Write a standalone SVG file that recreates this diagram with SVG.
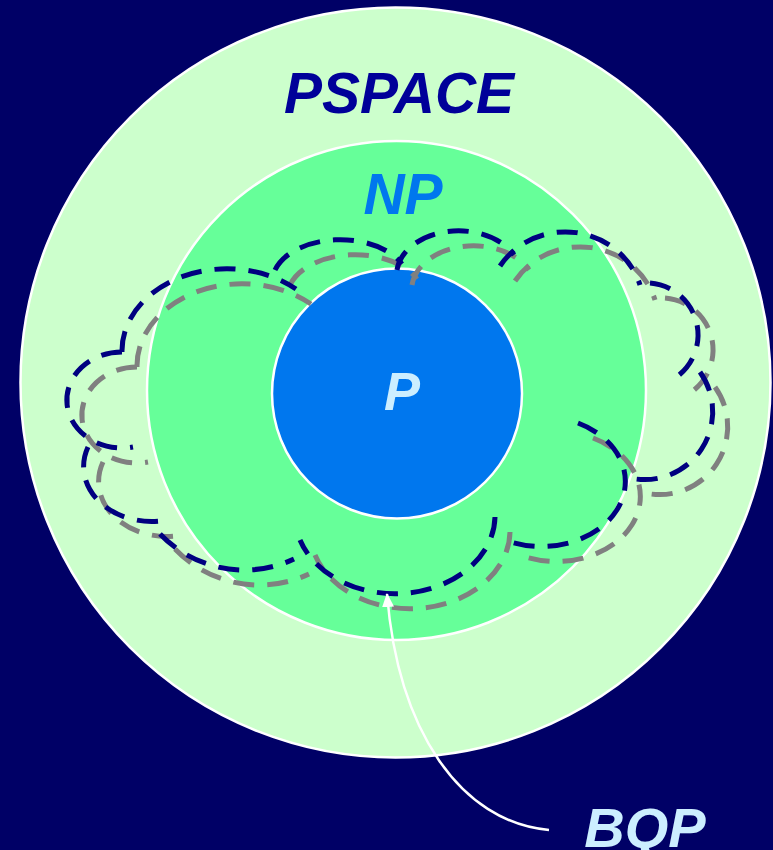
<svg xmlns="http://www.w3.org/2000/svg" xmlns:xlink="http://www.w3.org/1999/xlink" width="773" height="850" viewBox="0 0 773 850">
<style>
.ring{stroke:#ffffff;stroke-width:2.5}
.lbl{font-family:"Liberation Sans",Arial,sans-serif;font-weight:bold;font-style:italic;text-anchor:middle}
.cl{fill:none;stroke-width:5;stroke-dasharray:21 13}
</style>
<defs>
<g id="cloud">
<path d="M122,352 A105,82 0 0 1 296,289"/>
<path d="M275,270 A68,42 0 0 1 402,264"/>
<path d="M397,270 A62,44 0 0 1 514,255"/>
<path d="M500,266 A78,75 0 0 1 640,285"/>
<path d="M650,283 A52,52 0 0 1 670,381"/>
<path d="M700,372 A68,68 0 0 1 630,478"/>
<path d="M578,423 A80,62 0 1 1 505,540"/>
<path d="M495,517 A100,78 0 0 1 300,540"/>
<path d="M160,534 A117,117 0 0 0 294,559"/>
<path d="M88,447 A68,55 0 0 0 167,520"/>
<path d="M122,352 A55,48 0 1 0 133,447"/>
</g>
<marker id="ah" markerUnits="userSpaceOnUse" markerWidth="14" markerHeight="12" viewBox="0 0 14 12" refX="13" refY="6" orient="auto">
<path d="M0,0 L14,6 L0,12 z" fill="#ffffff"/>
</marker>
</defs>
<rect x="0" y="0" width="773" height="850" fill="#000066"/>
<g id="pspace">
<circle class="ring" cx="395.5" cy="382.5" r="375" fill="#CCFFCC"/>
<text class="lbl" x="399" y="113" font-size="57" fill="#000099">PSPACE</text>
</g>
<g id="np">
<circle class="ring" cx="396.5" cy="390.5" r="249.5" fill="#66FF99"/>
<text class="lbl" x="403" y="214" font-size="57" fill="#0077EE">NP</text>
</g>
<g id="p">
<circle class="ring" cx="397" cy="393.5" r="125" fill="#0077EE"/>
<text class="lbl" x="402" y="410" font-size="54" fill="#CCEEFF">P</text>
</g>
<g id="bqp">
<use xlink:href="#cloud" href="#cloud" class="cl" stroke="#808080" transform="translate(15,15)"/>
<use xlink:href="#cloud" href="#cloud" class="cl" stroke="#000080"/>
<text class="lbl" x="645" y="847" font-size="56" fill="#CCEEFF">BQP</text>
</g>
<g id="connectors">
<path d="M549,830 C460,822 398,730 387,594" fill="none" stroke="#ffffff" stroke-width="2.5" marker-end="url(#ah)"/>
</g>
</svg>
